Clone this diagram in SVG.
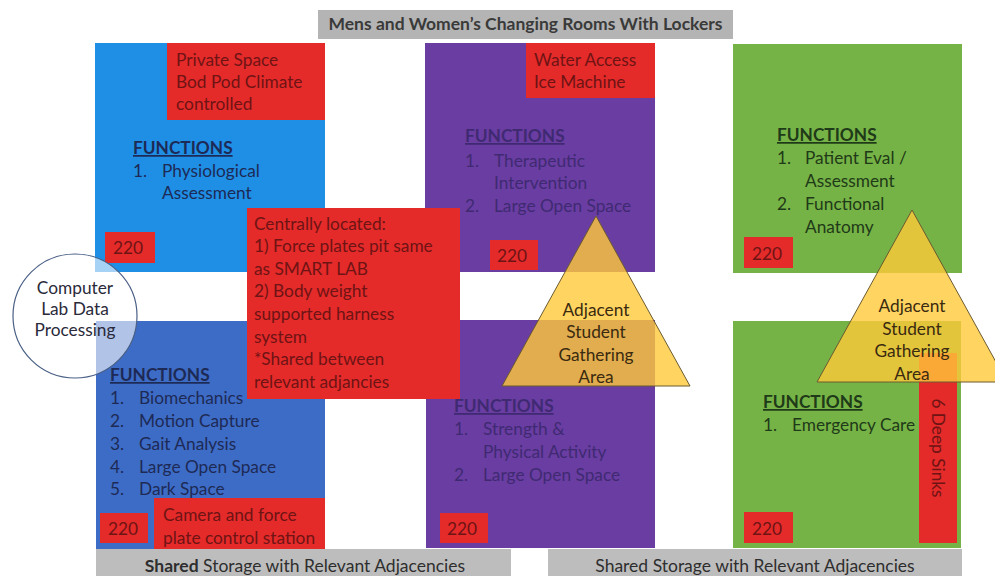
<svg xmlns="http://www.w3.org/2000/svg" width="995" height="576" viewBox="0 0 995 576">
<style>
text{font-family:Lato,"Open Sans","Liberation Sans",sans-serif;font-size:17.3px}
.bar{fill:#b4b4b4}
.bt{fill:#3a3a3a;font-size:17.5px}
.red{fill:#e52a2a}
.rt{fill:#6e1414}
.blueT{fill:#1d2a55}
.purT{fill:#3f2a72}
.grnT{fill:#1f3a18}
.fn{font-weight:bold;text-decoration:underline}
.tri{fill:#ffc93a;fill-opacity:0.8;stroke:#6a5a30;stroke-width:1}
.tt{fill:#3a2a10;text-anchor:middle}
.num{fill:#6e1414}
.st{fill:#2e2e2e;font-size:17.5px;text-anchor:middle}
</style>
<rect width="995" height="576" fill="#ffffff"/>
<g id="top-bar">
<rect class="bar" x="318" y="10" width="415" height="29" fill="#acacac"/>
<text class="bt" x="525.5" y="30" text-anchor="middle" font-weight="bold">Mens and Women’s Changing Rooms With Lockers</text>
</g>
<g id="room-blue-top">
<rect x="95" y="43" width="230" height="229" fill="#1f8fe6"/>
<rect class="red" x="167" y="43" width="158" height="77"/>
<text class="rt" x="176" y="66">Private Space</text>
<text class="rt" x="176" y="88">Bod Pod Climate</text>
<text class="rt" x="176" y="110">controlled</text>
<text class="blueT fn" x="133" y="154">FUNCTIONS</text>
<text class="blueT" x="133" y="177">1.</text>
<text class="blueT" x="162" y="177">Physiological</text>
<text class="blueT" x="162" y="199">Assessment</text>
<rect class="red" x="105" y="232" width="50" height="31"/>
<text class="num" x="113" y="254">220</text>
</g>
<g id="room-purple-top">
<rect x="425" y="43" width="230" height="229" fill="#6a3da2"/>
<rect class="red" x="526" y="43" width="129" height="55"/>
<text class="rt" x="534" y="66">Water Access</text>
<text class="rt" x="534" y="88">Ice Machine</text>
<text class="purT fn" x="465" y="142">FUNCTIONS</text>
<text class="purT" x="465" y="167">1.</text>
<text class="purT" x="494" y="167">Therapeutic</text>
<text class="purT" x="494" y="189">Intervention</text>
<text class="purT" x="465" y="212">2.</text>
<text class="purT" x="494" y="212">Large Open Space</text>
<rect class="red" x="490" y="240" width="48" height="30"/>
<text class="num" x="497" y="262">220</text>
</g>
<g id="room-green-top">
<rect x="733" y="44" width="229" height="229" fill="#76b346"/>
<text class="grnT fn" x="777" y="141">FUNCTIONS</text>
<text class="grnT" x="777" y="164">1.</text>
<text class="grnT" x="805" y="164">Patient Eval /</text>
<text class="grnT" x="805" y="187">Assessment</text>
<text class="grnT" x="777" y="210">2.</text>
<text class="grnT" x="805" y="210">Functional</text>
<text class="grnT" x="805" y="233">Anatomy</text>
<rect class="red" x="744" y="237" width="49" height="31"/>
<text class="num" x="752" y="260">220</text>
</g>
<g id="room-blue-bottom">
<rect x="96" y="321" width="229" height="228" fill="#3d6cc6"/>
<text class="blueT fn" x="110" y="381">FUNCTIONS</text>
<text class="blueT" x="110" y="404">1.</text>
<text class="blueT" x="139" y="404">Biomechanics</text>
<text class="blueT" x="110" y="427">2.</text>
<text class="blueT" x="139" y="427">Motion Capture</text>
<text class="blueT" x="110" y="450">3.</text>
<text class="blueT" x="139" y="450">Gait Analysis</text>
<text class="blueT" x="110" y="473">4.</text>
<text class="blueT" x="139" y="473">Large Open Space</text>
<text class="blueT" x="110" y="495">5.</text>
<text class="blueT" x="139" y="495">Dark Space</text>
<rect class="red" x="100" y="513" width="48" height="30"/>
<text class="num" x="108" y="535">220</text>
<rect class="red" x="154" y="498" width="171" height="54"/>
<text class="rt" x="163" y="521">Camera and force</text>
<text class="rt" x="163" y="544">plate control station</text>
</g>
<g id="room-purple-bottom">
<rect x="426" y="320" width="229" height="228" fill="#6a3da2"/>
<text class="purT fn" x="454" y="412">FUNCTIONS</text>
<text class="purT" x="454" y="435">1.</text>
<text class="purT" x="483" y="435">Strength &amp;</text>
<text class="purT" x="483" y="458">Physical Activity</text>
<text class="purT" x="454" y="481">2.</text>
<text class="purT" x="483" y="481">Large Open Space</text>
<rect class="red" x="440" y="513" width="48" height="30"/>
<text class="num" x="447" y="535">220</text>
</g>
<g id="room-green-bottom">
<rect x="733" y="321" width="228" height="227" fill="#76b346"/>
<text class="grnT fn" x="763" y="408">FUNCTIONS</text>
<text class="grnT" x="763" y="431">1.</text>
<text class="grnT" x="792" y="431">Emergency Care</text>
<rect class="red" x="744" y="512" width="49" height="31"/>
<text class="num" x="752" y="535">220</text>
<rect class="red" x="919" y="353" width="38" height="190"/>
<text class="rt" transform="translate(932,448) rotate(90)" text-anchor="middle" font-size="17.3">6 Deep Sinks</text>
</g>
<g id="central-note">
<rect class="red" x="247" y="208" width="213" height="191"/>
<text class="rt" x="254" y="230">Centrally located:</text>
<text class="rt" x="254" y="252">1) Force plates pit same</text>
<text class="rt" x="254" y="275">as SMART LAB</text>
<text class="rt" x="254" y="297">2) Body weight</text>
<text class="rt" x="254" y="320">supported harness</text>
<text class="rt" x="254" y="343">system</text>
<text class="rt" x="254" y="365">*Shared between</text>
<text class="rt" x="254" y="388">relevant adjancies</text>
</g>
<g id="computer-lab">
<circle cx="75" cy="316" r="62" fill="#ffffff" fill-opacity="0.6" stroke="#4a5f86" stroke-width="1.2"/>
<text x="75" y="294" text-anchor="middle" fill="#2a2a3a" font-size="15.5">Computer</text>
<text x="75" y="315" text-anchor="middle" fill="#2a2a3a" font-size="15.5">Lab Data</text>
<text x="75" y="336" text-anchor="middle" fill="#2a2a3a" font-size="15.5">Processing</text>
</g>
<g id="gathering-1">
<polygon class="tri" points="596,216 502,386 690,386"/>
<text class="tt" x="596" y="316">Adjacent</text>
<text class="tt" x="596" y="338">Student</text>
<text class="tt" x="596" y="361">Gathering</text>
<text class="tt" x="596" y="383">Area</text>
</g>
<g id="gathering-2">
<polygon class="tri" points="912,210 817,382 1007,382"/>
<text class="tt" x="912" y="312">Adjacent</text>
<text class="tt" x="912" y="335">Student</text>
<text class="tt" x="912" y="357">Gathering</text>
<text class="tt" x="912" y="380">Area</text>
</g>
<g id="storage-left">
<rect x="96" y="549" width="415" height="27" fill="#bdbdbd"/>
<text class="st" x="305" y="572"><tspan font-weight="bold">Shared</tspan> Storage with Relevant Adjacencies</text>
</g>
<g id="storage-right">
<rect x="548" y="549" width="414" height="27" fill="#bdbdbd"/>
<text class="st" x="755" y="572">Shared Storage with Relevant Adjacencies</text>
</g>
<g id="connectors"></g>
</svg>
